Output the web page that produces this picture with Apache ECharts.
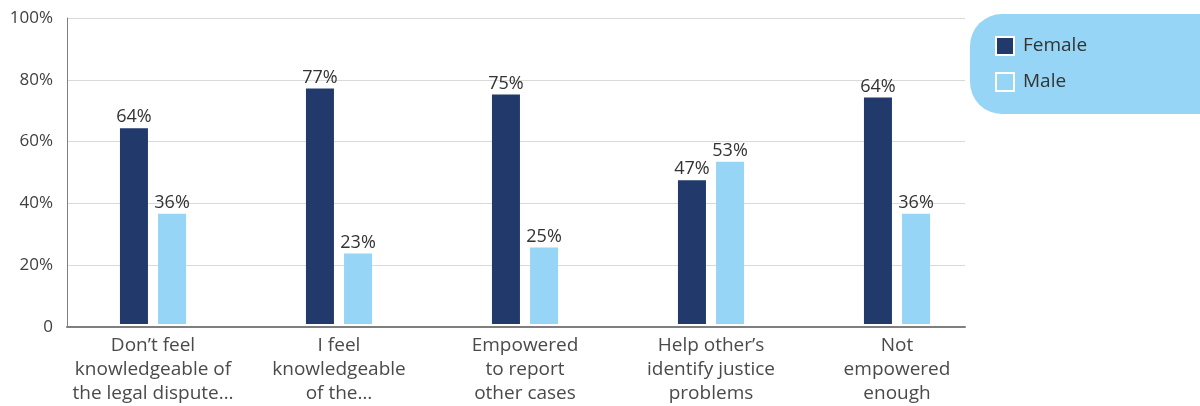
<!DOCTYPE html>
<html>
<head>
<meta charset="utf-8">
<script src="https://cdn.jsdelivr.net/npm/echarts@6/dist/echarts.min.js"></script>
<style>
  html, body { margin: 0; padding: 0; background: #fff; }
  #chart { width: 1200px; height: 406px; }
</style>
</head>
<body>
<div id="chart"></div>
<script>
var categories = [
  "Don\u2019t feel\nknowledgeable of\nthe legal dispute\u2026",
  "I feel\nknowledgeable\nof the\u2026",
  "Empowered\nto report\nother cases",
  "Help other\u2019s\nidentify justice\nproblems",
  "Not\nempowered\nenough"
];
var femaleValues = [64, 77, 75, 47, 74];
var maleValues = [36, 23, 25, 53, 36];
// labels printed above the bars (last female label differs from bar height in source)
var femaleLabels = ["64%", "77%", "75%", "47%", "64%"];
var maleLabels = ["36%", "23%", "25%", "53%", "36%"];
var yTicks = [0, 20, 40, 60, 80, 100];

var font = "'Open Sans', 'Noto Sans', sans-serif";
var navy = "#22396b";
var sky = "#96d5f6";

var chart = echarts.init(document.getElementById("chart"));

var option = {
  animation: false,
  textStyle: { fontFamily: font },
  legend: {
    orient: "vertical",
    left: 970,
    top: 14,
    padding: [22, 220, 22, 25],
    backgroundColor: sky,
    borderRadius: 32,
    itemWidth: 18,
    itemHeight: 18,
    itemGap: 16,
    icon: "rect",
    itemStyle: { borderColor: "#fff", borderWidth: 2 },
    textStyle: { color: "#333", fontSize: 19, lineHeight: 18, fontFamily: font, padding: [0, 0, 0, 4] },
    data: ["Female", "Male"]
  },
  grid: [
    // frame: axis lines + gridlines
    { left: 67, right: 235, top: 18, bottom: 79 },
    // bars + category labels
    { left: 60, width: 930, top: 18, bottom: 79 }
  ],
  xAxis: [
    {
      gridIndex: 0,
      type: "value",
      min: 0,
      max: 1,
      z: 5,
      axisLine: { show: true, lineStyle: { color: "#7f7f7f", width: 2 } },
      axisTick: { show: false },
      axisLabel: { show: false },
      splitLine: { show: false }
    },
    {
      gridIndex: 1,
      type: "category",
      data: categories,
      axisLine: { show: false },
      axisTick: { show: false },
      axisLabel: {
        interval: 0,
        margin: 10,
        color: "#4a4a4a",
        fontSize: 19,
        lineHeight: 24,
        fontFamily: font
      }
    }
  ],
  yAxis: [
    {
      gridIndex: 0,
      type: "value",
      min: yTicks[0],
      max: yTicks[yTicks.length - 1],
      interval: 20,
      axisLine: { show: true, lineStyle: { color: "#7f7f7f", width: 1 } },
      axisTick: { show: false },
      axisLabel: {
        margin: 14,
        color: "#404040",
        fontSize: 17,
        fontFamily: font,
        formatter: function (v) { return v === 0 ? "0" : v + "%"; }
      },
      splitLine: { lineStyle: { color: "#d9d9d9", width: 1 } }
    },
    {
      gridIndex: 1,
      type: "value",
      min: yTicks[0],
      max: yTicks[yTicks.length - 1],
      show: false
    }
  ],
  series: [
    {
      name: "Female",
      type: "bar",
      xAxisIndex: 1,
      yAxisIndex: 1,
      data: femaleValues,
      barWidth: 28,
      barGap: "36%",
      itemStyle: { color: navy, borderWidth: 0 },
      label: {
        show: true,
        position: "top",
        distance: 2,
        color: "#333",
        fontSize: 18,
        fontFamily: font,
        formatter: function (p) { return femaleLabels[p.dataIndex]; }
      }
    },
    {
      name: "Male",
      type: "bar",
      xAxisIndex: 1,
      yAxisIndex: 1,
      data: maleValues,
      barWidth: 28,
      barGap: "36%",
      itemStyle: { color: sky, borderWidth: 0 },
      label: {
        show: true,
        position: "top",
        distance: 2,
        color: "#333",
        fontSize: 18,
        fontFamily: font,
        formatter: function (p) { return maleLabels[p.dataIndex]; }
      }
    }
  ]
};

chart.setOption(option);
</script>
</body>
</html>
